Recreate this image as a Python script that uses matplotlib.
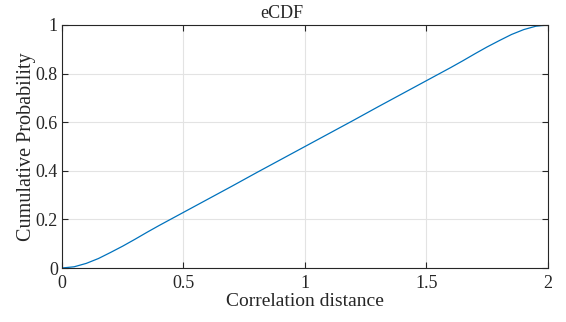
import matplotlib
matplotlib.use("Agg")
import matplotlib.pyplot as plt

# eCDF values
dist = [0, 0.05, 0.1, 0.15, 0.2, 0.25, 0.3, 0.35, 0.4, 0.45, 0.5, 0.6, 0.7, 0.8, 0.9,
        1.0, 1.1, 1.2, 1.3, 1.4, 1.5, 1.55, 1.6, 1.65, 1.7, 1.75, 1.8, 1.85, 1.9, 1.95, 2.0]
prob = [0, 0.005, 0.019, 0.039, 0.064, 0.090, 0.118, 0.147, 0.175, 0.202, 0.229, 0.283, 0.337, 0.392, 0.446,
        0.5, 0.554, 0.608, 0.663, 0.717, 0.771, 0.798, 0.825, 0.853, 0.882, 0.910, 0.936, 0.961, 0.981, 0.995, 1.0]

xticks = [0, 0.5, 1, 1.5, 2]
xticklabels = ["0", "0.5", "1", "1.5", "2"]
yticks = [0, 0.2, 0.4, 0.6, 0.8, 1]
yticklabels = ["0", "0.2", "0.4", "0.6", "0.8", "1"]

plt.rc("font", family="Liberation Serif")
plt.rcParams["text.color"] = "#262626"
plt.rcParams["axes.labelcolor"] = "#262626"
plt.rcParams["xtick.color"] = "#262626"
plt.rcParams["ytick.color"] = "#262626"

fig = plt.figure(figsize=(5.66, 3.22), dpi=100)
ax = fig.add_axes([0.1095, 0.1677, 0.8587, 0.7547])

ax.plot(dist, prob, color="#0072BD", linewidth=0.9)

ax.set_xlim(0, 2)
ax.set_ylim(0, 1)
ax.set_xticks(xticks)
ax.set_xticklabels(xticklabels)
ax.set_yticks(yticks)
ax.set_yticklabels(yticklabels)
ax.grid(True, color="#e3e3e3", linewidth=0.8)
ax.set_axisbelow(True)
ax.tick_params(direction="in", length=4, width=0.8, top=True, right=True, labelsize=13)
ax.tick_params(axis="x", pad=5)
ax.tick_params(axis="y", pad=3)
for s in ax.spines.values():
    s.set_color("#262626")
    s.set_linewidth(0.8)

ax.set_title("eCDF", fontsize=13, pad=5, x=0.453)
ax.set_xlabel("Correlation distance", fontsize=14, labelpad=1)
ax.set_ylabel("Cumulative Probability", fontsize=14.5, labelpad=0)

plt.savefig("out.png", dpi=100)
